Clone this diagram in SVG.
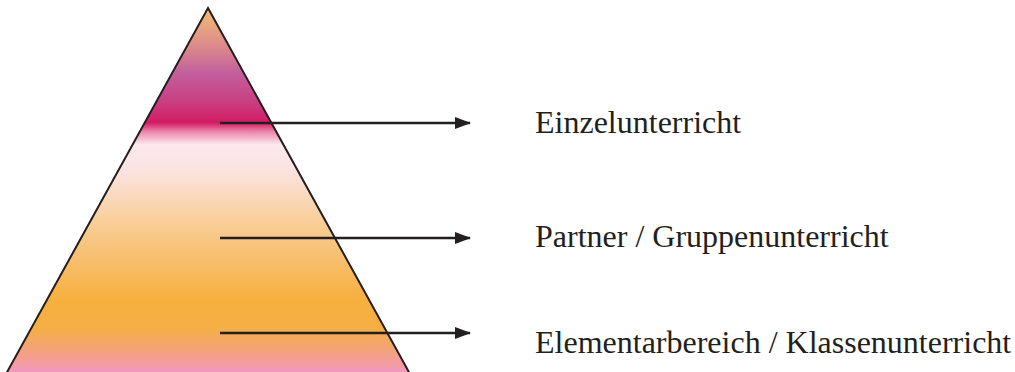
<svg xmlns="http://www.w3.org/2000/svg" width="1015" height="372" viewBox="0 0 1015 372">
<style>
.lbl{font-family:"Liberation Serif","Times New Roman",serif;font-size:32px;fill:#231f20}
.conn{stroke:#231f20;stroke-width:2.5;fill:none}
</style>
<defs>
<linearGradient id="g" x1="0" y1="8" x2="0" y2="372" gradientUnits="userSpaceOnUse">
<stop offset="0" stop-color="#f4bd72"/>
<stop offset="0.1" stop-color="#dd8d8a"/>
<stop offset="0.18" stop-color="#c25f9d"/>
<stop offset="0.26" stop-color="#c93e80"/>
<stop offset="0.315" stop-color="#d31c63"/>
<stop offset="0.34" stop-color="#ec86ab"/>
<stop offset="0.375" stop-color="#fbe8ee"/>
<stop offset="0.45" stop-color="#fbe3df"/>
<stop offset="0.58" stop-color="#f9cf9c"/>
<stop offset="0.7" stop-color="#f7bd69"/>
<stop offset="0.8" stop-color="#f6b03e"/>
<stop offset="0.88" stop-color="#f5ae45"/>
<stop offset="0.95" stop-color="#f4a084"/>
<stop offset="1" stop-color="#f298bd"/>
</linearGradient>
<marker id="ah" markerWidth="16" markerHeight="12" refX="15" refY="6" orient="auto" markerUnits="userSpaceOnUse">
<path d="M0,0 L16,6 L0,12 Z" fill="#231f20"/>
</marker>
</defs>
<g id="pyramid">
<path d="M208,8 L410,374 L6,374 Z" fill="url(#g)" stroke="#231f20" stroke-width="2"/>
</g>
<g id="connectors">
<line class="conn" x1="220" y1="123" x2="470" y2="123" marker-end="url(#ah)"/>
<line class="conn" x1="220" y1="238" x2="470" y2="238" marker-end="url(#ah)"/>
<line class="conn" x1="220" y1="333" x2="470" y2="333" marker-end="url(#ah)"/>
</g>
<g id="n1"><text class="lbl" x="535" y="133">Einzelunterricht</text></g>
<g id="n2"><text class="lbl" x="535" y="247">Partner / Gruppenunterricht</text></g>
<g id="n3"><text class="lbl" x="535" y="353">Elementarbereich / Klassenunterricht</text></g>
</svg>
